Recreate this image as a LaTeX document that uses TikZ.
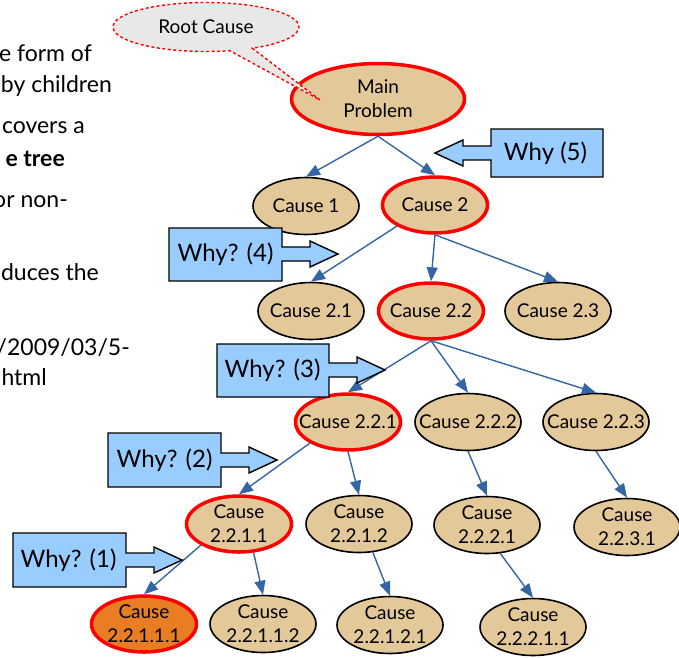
\documentclass[tikz,border=0pt]{standalone}
\usepackage{fontspec}
\setmainfont{Lato}
\usetikzlibrary{shapes.geometric, shapes.callouts, arrows.meta}
\definecolor{mytan}{RGB}{227,201,153}
\definecolor{myorange}{RGB}{232,125,36}
\definecolor{myblue}{RGB}{52,101,164}
\definecolor{myred}{RGB}{255,0,0}
\definecolor{hdrblue}{RGB}{153,204,255}
\definecolor{mygray}{RGB}{232,232,232}
\tikzset{
  cause/.style={ellipse, draw=black, fill=mytan, line width=1.6pt,
    minimum width=106pt, minimum height=57pt, inner xsep=-25pt, inner ysep=-12pt,
    align=center, font=\fontsize{19}{24}\selectfont},
  redcause/.style={cause, draw=myred, line width=3.5pt,
    minimum width=105pt, minimum height=56pt},
  rootcause/.style={redcause, fill=myorange},
  edge/.style={-{Triangle[length=14pt, width=11pt]}, line width=1.4pt, color=myblue},
  whyarrow/.style={draw=black, fill=hdrblue, line width=1.4pt, line join=miter},
  whytext/.style={inner sep=0pt, font=\fontsize{24}{28}\selectfont},
  slidetext/.style={anchor=base east, inner sep=0pt, font=\fontsize{23}{28}\selectfont},
  notebubble/.style={ellipse callout, draw=myred, fill=mygray, line width=1.4pt,
    dash pattern=on 3pt off 2.5pt, minimum width=186pt, minimum height=49pt,
    inner sep=0pt, font=\fontsize{19}{23}\selectfont}
}

\begin{document}
\begin{tikzpicture}[x=1pt, y=-1pt]
  \useasboundingbox (0,0) rectangle (679,657);

  % Slide text, cut at the left edge
  \node[slidetext] (txt1) at (92,61) {e form of};
  \node[slidetext] (txt2) at (112,92) {by children};
  \node[slidetext] (txt3) at (85,133) {covers a};
  \node[slidetext] (txt4) at (65,166) {\textbf{e tree}};
  \node[slidetext] (txt5) at (68,207) {or non-};
  \node[slidetext] (txt6) at (99,280) {duces the};
  \node[slidetext] (txt7) at (130,355) {/2009/03/5-};
  \node[slidetext] (txt8) at (47,385) {html};

  % Tree of causes
  \node[redcause, minimum width=173pt, minimum height=71pt] (main) at (378,99) {Main\\Problem};
  \node[cause] (c1) at (306,206) {Cause 1};
  \node[redcause] (c2) at (435,205) {Cause 2};
  \node[cause] (c21) at (311,311) {Cause 2.1};
  \node[redcause] (c22) at (431,311) {Cause 2.2};
  \node[cause] (c23) at (558,311) {Cause 2.3};
  \node[redcause] (c221) at (348,422) {Cause 2.2.1};
  \node[cause] (c222) at (468,422) {Cause 2.2.2};
  \node[cause] (c223) at (596,422) {Cause 2.2.3};
  \node[redcause] (c2211) at (239,524) {Cause\\2.2.1.1};
  \node[cause] (c2212) at (359,524) {Cause\\2.2.1.2};
  \node[cause] (c2221) at (487,525) {Cause\\2.2.2.1};
  \node[cause] (c2231) at (627,527) {Cause\\2.2.3.1};
  \node[rootcause] (c22111) at (144,624) {Cause\\2.2.1.1.1};
  \node[cause] (c22112) at (263,624) {Cause\\2.2.1.1.2};
  \node[cause] (c22121) at (390,625) {Cause\\2.2.1.2.1};
  \node[cause] (c22211) at (533,627) {Cause\\2.2.2.1.1};

  % Connectors
  \draw[edge] (main.south) -- (c1.north);
  \draw[edge] (main.south) -- (c2.north);
  \draw[edge] (c2.209) -- (c21.north);
  \draw[edge] (c2.south) -- (c22.north);
  \draw[edge] (c2.south) -- (c23.north);
  \draw[edge] (c22.south) -- (c221.north);
  \draw[edge] (c22.south) -- (c222.north);
  \draw[edge] (c22.south) -- (c223.north);
  \draw[edge] (c221.209) -- (c2211.north);
  \draw[edge] (c221.south) -- (c2212.north);
  \draw[edge] (c222.south) -- (c2221.north);
  \draw[edge] (c223.south) -- (c2231.north);
  \draw[edge] (c2211.209) -- (c22111.north);
  \draw[edge] (c2211.297) -- (c22112.north);
  \draw[edge] (c2212.296) -- (c22121.north);
  \draw[edge] (c2221.295) -- (c22211.north);

  % Why arrows
  \draw[whyarrow] (491,129) -- (603,129) -- (603,177) -- (491,177) -- (491,160) -- (463,160)
    -- (463,166) -- (435,153) -- (463,140) -- (463,146) -- (491,146) -- cycle;
  \node[whytext] (why5) at (545.5,153) {Why (5)};
  \draw[whyarrow] (169,228) -- (282,228) -- (282,247) -- (310,247) -- (310,241) -- (338,254)
    -- (310,267) -- (310,261) -- (282,261) -- (282,281) -- (169,281) -- cycle;
  \node[whytext] (why4) at (225.5,254.5) {Why? (4)};
  \draw[whyarrow] (217,344) -- (329,344) -- (329,363) -- (357,363) -- (357,357) -- (385,370)
    -- (357,383) -- (357,377) -- (329,377) -- (329,397) -- (217,397) -- cycle;
  \node[whytext] (why3) at (272.5,370.5) {Why? (3)};
  \draw[whyarrow] (108,433) -- (221,433) -- (221,453) -- (249,453) -- (249,447) -- (277,460)
    -- (249,473) -- (249,467) -- (221,467) -- (221,487) -- (108,487) -- cycle;
  \node[whytext] (why2) at (164.5,460) {Why? (2)};
  \draw[whyarrow] (13,533) -- (126,533) -- (126,553) -- (154,553) -- (154,547) -- (182,560)
    -- (154,573) -- (154,567) -- (126,567) -- (126,587) -- (13,587) -- cycle;
  \node[whytext] (why1) at (68.5,560) {Why? (1)};

  % Root cause bubble
  \node[notebubble, callout absolute pointer={(320,100)}] (rootnote) at (206,27) {Root Cause};
\end{tikzpicture}
\end{document}
